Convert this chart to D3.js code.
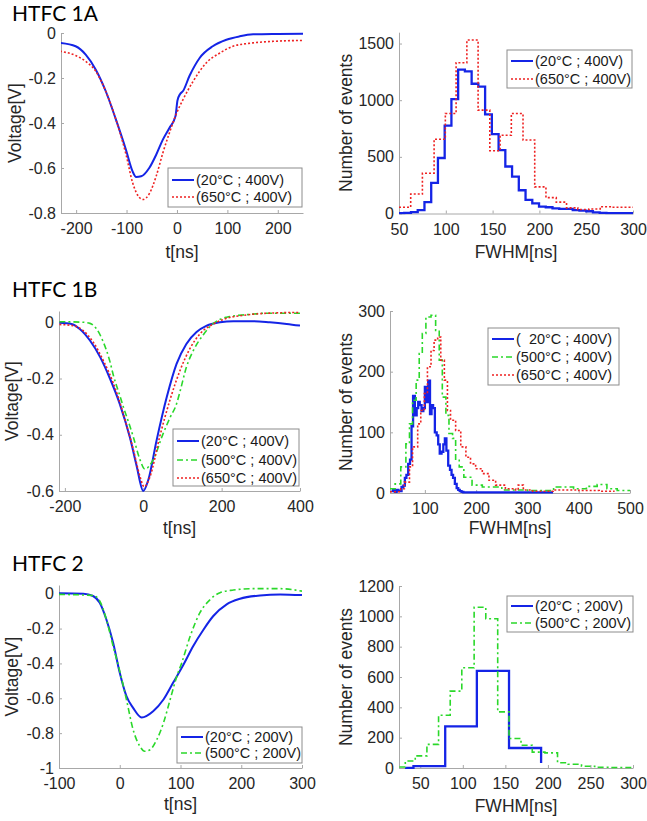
<!DOCTYPE html>
<html><head><meta charset="utf-8">
<script src="https://cdn.jsdelivr.net/npm/d3@7"></script>
<style>
body{margin:0;background:#fff;}
svg text{font-family:"Liberation Sans",Arial,sans-serif;}
</style></head><body>
<svg id="c" width="647" height="821"></svg>
<script>
// ---------- DATA ----------
// HTFC 1A waveforms
const t1A_20  = [-232,-201,-181,-161,-141,-121,-101,-88,-81,-71,-55,-41,-28,-15,-3,1,6,12,25,45,71,98,124,151,200,250];
const v1A_20  = [-0.044,-0.059,-0.096,-0.163,-0.26,-0.385,-0.52,-0.615,-0.64,-0.637,-0.60,-0.54,-0.474,-0.422,-0.37,-0.30,-0.272,-0.258,-0.19,-0.111,-0.059,-0.03,-0.015,-0.006,-0.004,-0.003];
const t1A_650 = [-232,-201,-181,-161,-141,-121,-101,-88,-75,-68,-55,-41,-28,-15,-2,12,32,58,85,111,151,191,250];
const v1A_650 = [-0.081,-0.10,-0.126,-0.17,-0.26,-0.385,-0.54,-0.665,-0.73,-0.74,-0.715,-0.635,-0.533,-0.444,-0.363,-0.296,-0.215,-0.133,-0.089,-0.059,-0.044,-0.037,-0.033];
// HTFC 1A FWHM histograms (stairs: edge, count)
const h1A_20_x  = [50,55.6,62.8,70,77.2,84.4,91.6,98.8,106,113.2,120.4,127.6,134.8,142,149.2,156.4,163.6,170.8,178,185.2,192.4,199.6,206.8,214,221.2,228.4,235.6,242.8,250,257.2,264.4,271.6,278.8,286,293.2,300];
const h1A_20_n  = [3,6,12,30,100,270,490,775,1010,1270,1255,1145,1120,875,700,560,415,325,205,120,90,60,55,45,40,40,30,25,20,10,5,3,3,3,3,3];
const h1A_650_x = [50,62.5,75,87.5,99.5,111,122.5,134.5,147,158,170,182.5,195,207,218,229,241,253,265,278,290,300];
const h1A_650_n = [55,172,355,655,882,1331,1531,912,554,690,882,649,235,140,100,50,35,40,60,55,55,55];

// HTFC 1B waveforms
const t1B_20  = [-214,-183,-162,-136,-110,-85,-60,-34,-17,0,13,34,60,85,110,136,162,196,230,281,323,366,400];
const v1B_20  = [-0.002,-0.006,-0.024,-0.065,-0.124,-0.20,-0.29,-0.41,-0.51,-0.60,-0.56,-0.42,-0.266,-0.148,-0.077,-0.035,-0.012,0,0.004,0.004,0,-0.006,-0.012];
const t1B_500 = [-214,-153,-136,-119,-102,-85,-76,-60,-51,-34,-25,-8,4,25,51,68,85,95,110,128,153,178,195,213,264,315,400];
const v1B_500 = [0.002,0,-0.004,-0.024,-0.07,-0.14,-0.19,-0.26,-0.30,-0.37,-0.41,-0.49,-0.522,-0.49,-0.395,-0.34,-0.29,-0.24,-0.16,-0.10,-0.045,-0.005,0.01,0.018,0.027,0.032,0.032];
const t1B_650 = [-214,-179,-153,-128,-102,-76,-51,-25,-8,2,17,42,68,94,119,145,179,213,264,315,400];
const v1B_650 = [-0.008,-0.012,-0.03,-0.07,-0.136,-0.218,-0.325,-0.455,-0.55,-0.585,-0.55,-0.407,-0.277,-0.171,-0.094,-0.041,-0.006,0.014,0.026,0.032,0.035];
// HTFC 1B FWHM histograms
const h1B_20_x  = [35,38,41.5,45,48,51,54.5,58,61,64,67.5,71,74,77,80.5,84,87,90,93.5,97,100,103,106.5,110,113,116,119.5,123,126,129,132.5,136,139,142,145.5,149,152,155,158.5,162,165,168,171.5,175,178,350];
const h1B_20_n  = [3,5,2,5,4,3,10,12,25,30,48,55,110,160,128,140,150,145,135,140,175,150,185,130,145,140,100,95,80,65,68,80,90,70,45,38,30,25,15,8,5,3,2,1,1,1];
const h1B_500_x = [32,42,53,63,70,76,83,89,95,102,112,121,128,134,141,147,154,160,167,176,192,212,250,300,351,390,415,436,455,475,500];
const h1B_500_n = [7,15,43,81,114,153,186,230,263,290,293,268,219,158,128,98,90,54,43,26,13,10,5,4,10,7,11,14,7,4,4];
const h1B_650_x = [32,53,60,70,76,86,92,99,105,112,118,125,131,138,144,150,160,170,180,189,199,212,225,238,257,277,282,292,310,350,400,440,470];
const h1B_650_n = [2,7,18,43,76,114,136,164,208,235,252,257,219,186,136,120,103,76,59,48,40,32,21,13,7,5,13,5,3,5,4,3,3];

// HTFC 2 waveforms
const t2_20  = [-100,-60,-44,-33,-22,-11,0,11,22,36,55,72,88,105,121,138,154,176,198,231,264,300];
const v2_20  = [0.002,0,-0.013,-0.052,-0.148,-0.28,-0.454,-0.588,-0.655,-0.71,-0.674,-0.607,-0.51,-0.406,-0.30,-0.205,-0.128,-0.061,-0.029,-0.01,-0.004,-0.008];
const t2_500 = [-100,-44,-33,-22,-11,0,11,22,33,41,50,61,72,83,94,102,116,132,149,165,187,220,264,300];
const v2_500 = [-0.004,-0.01,-0.042,-0.148,-0.30,-0.444,-0.607,-0.78,-0.875,-0.904,-0.895,-0.837,-0.741,-0.607,-0.473,-0.397,-0.243,-0.109,-0.033,0.006,0.021,0.029,0.029,0.015];
// HTFC 2 FWHM histograms
const h2_20_x  = [32,42,79.3,116.5,154.3,192];
const h2_20_n  = [0,12,275,641,132,33];
const h2_500_x = [25.4,32.4,44.1,57.8,71.5,85.2,98.8,113.3,127,141,154.3,168.4,181.6,196.5,211.3,223.8,239.5,255,272.7,300];
const h2_500_n = [7,46,80,156,348,507,661,1060,984,370,195,150,105,100,35,25,12,5,3,3];

// Tick values
const ticks1A_x = [-200,-100,0,100,200], ticks1A_y = [0,-0.2,-0.4,-0.6,-0.8];
const ticksH1A_x = [50,100,150,200,250,300], ticksH1A_y = [0,500,1000,1500];
const ticks1B_x = [-200,0,200,400], ticks1B_y = [0,-0.2,-0.4,-0.6];
const ticksH1B_x = [100,200,300,400,500], ticksH1B_y = [0,100,200,300];
const ticks2_x = [-100,0,100,200,300], ticks2_y = [0,-0.2,-0.4,-0.6,-0.8,-1];
const ticksH2_x = [50,100,150,200,250,300], ticksH2_y = [0,200,400,600,800,1000,1200];

const titles = ["HTFC 1A","HTFC 1B","HTFC 2"];

// ---------- DRAW ----------
const svg = d3.select("#c");
const STY = {
  blue:  {stroke:"#1424e6", width:2,   dash:null},
  red:   {stroke:"#ee2222", width:1.6, dash:"2,2"},
  green: {stroke:"#2ad82a", width:1.6, dash:"6,3,2,3"}
};
let clipId = 0;

function panel(c){
  const x = d3.scaleLinear().domain(c.xd).range(c.xr);
  const y = d3.scaleLinear().domain(c.yd).range(c.yr);
  const g = svg.append("g");
  const id = "clip" + (clipId++);
  svg.append("clipPath").attr("id", id).append("rect")
     .attr("x", c.xr[0]).attr("y", c.yr[1]-2)
     .attr("width", c.xr[1]-c.xr[0]).attr("height", c.yr[0]-c.yr[1]+3);

  const ax = g.append("g").attr("transform", `translate(0,${c.yr[0]})`)
    .call(d3.axisBottom(x).tickValues(c.xt).tickSizeInner(-3).tickSizeOuter(0)
          .tickPadding(10).tickFormat(d => String(d)));
  const ay = g.append("g").attr("transform", `translate(${c.xr[0]},0)`)
    .call(d3.axisLeft(y).tickValues(c.yt).tickSizeInner(-3).tickSizeOuter(0)
          .tickPadding(5).tickFormat(d => String(d)));
  [ax, ay].forEach(a => {
    a.select(".domain").attr("stroke", "#a8a8a8").attr("stroke-width", 1);
    a.selectAll(".tick line").attr("stroke", "#a8a8a8");
    a.selectAll(".tick text").attr("fill", "#262626").style("font-size", "16px")
      .style("font-family", '"Liberation Sans",Arial,sans-serif');
  });

  const plot = g.append("g").attr("clip-path", `url(#${id})`);
  c.series.forEach(s => {
    const st = STY[s.style];
    const pts = s.x.map((v, i) => [v, s.y[i]]);
    const line = d3.line().x(d => x(d[0])).y(d => y(d[1]))
      .curve(s.step ? d3.curveStepAfter : d3.curveMonotoneX);
    plot.append("path").attr("d", line(pts)).attr("fill", "none")
      .attr("stroke", st.stroke).attr("stroke-width", s.step && s.style==="blue" ? 2.3 : st.width)
      .attr("stroke-dasharray", st.dash).attr("stroke-linejoin", "miter");
  });

  g.append("text").attr("x", (c.xr[0]+c.xr[1])/2).attr("y", c.xlY).attr("dy", "0.35em")
    .attr("text-anchor", "middle").attr("fill", "#262626").style("font-size", "17.5px").text(c.xl);
  g.append("text").attr("transform", `translate(${c.ylX},${(c.yr[0]+c.yr[1])/2}) rotate(-90)`)
    .attr("dy", "0.35em").attr("text-anchor", "middle").attr("fill", "#262626")
    .style("font-size", "17.5px").text(c.yl);

  const L = c.leg;
  const lg = g.append("g");
  lg.append("rect").attr("x", L.x).attr("y", L.y).attr("width", L.w).attr("height", L.h)
    .attr("fill", "#fff").attr("stroke", "#8c8c8c").attr("stroke-width", 1);
  c.series.forEach((s, i) => {
    const st = STY[s.style];
    const ry = L.rows[i];
    lg.append("line").attr("x1", L.x+4).attr("x2", L.x+26).attr("y1", ry).attr("y2", ry)
      .attr("stroke", st.stroke).attr("stroke-width", st.width).attr("stroke-dasharray", st.dash);
    lg.append("text").attr("x", L.x+28).attr("y", ry).attr("dy", "0.36em")
      .attr("fill", "#1a1a1a").style("font-size", "14.5px").style("white-space", "pre").text(s.label);
  });
}

[[21, titles[0]], [297, titles[1]], [571, titles[2]]].forEach(([yy, t]) => {
  svg.append("text").attr("x", 12).attr("y", yy).attr("fill", "#000")
    .style("font-family", "Lato, 'Open Sans', sans-serif").style("font-size", "21px").text(t);
});

panel({xd:[-230,250], yd:[-0.8,0], xr:[61,303], yr:[213,33], xt:ticks1A_x, yt:ticks1A_y,
  xl:"t[ns]", yl:"Voltage[V]", xlY:252, ylX:15,
  series:[{x:t1A_20, y:v1A_20, style:"blue", label:"(20°C ; 400V)"},
          {x:t1A_650, y:v1A_650, style:"red", label:"(650°C ; 400V)"}],
  leg:{x:168, y:168, w:134, h:39, rows:[180, 197]}});

panel({xd:[50,300], yd:[0,1600], xr:[399,633], yr:[213.5,32.2], xt:ticksH1A_x, yt:ticksH1A_y,
  xl:"FWHM[ns]", yl:"Number of events", xlY:252, ylX:346,
  series:[{x:h1A_20_x, y:h1A_20_n, style:"blue", step:true, label:"(20°C ; 400V)"},
          {x:h1A_650_x, y:h1A_650_n, style:"red", step:true, label:"(650°C ; 400V)"}],
  leg:{x:507, y:50, w:125, h:38, rows:[61, 79]}});

panel({xd:[-215,400], yd:[-0.6,0.04], xr:[59,300], yr:[491,311], xt:ticks1B_x, yt:ticks1B_y,
  xl:"t[ns]", yl:"Voltage[V]", xlY:528, ylX:12,
  series:[{x:t1B_20, y:v1B_20, style:"blue", label:"(20°C ; 400V)"},
          {x:t1B_500, y:v1B_500, style:"green", label:"(500°C ; 400V)"},
          {x:t1B_650, y:v1B_650, style:"red", label:"(650°C ; 400V)"}],
  leg:{x:173, y:429, w:126, h:57, rows:[441, 460, 478]}});

panel({xd:[32,500], yd:[0,300], xr:[390,630], yr:[493,311], xt:ticksH1B_x, yt:ticksH1B_y,
  xl:"FWHM[ns]", yl:"Number of events", xlY:528, ylX:346,
  series:[{x:h1B_20_x, y:h1B_20_n, style:"blue", step:true, label:"(  20°C ; 400V)"},
          {x:h1B_500_x, y:h1B_500_n, style:"green", step:true, label:"(500°C ; 400V)"},
          {x:h1B_650_x, y:h1B_650_n, style:"red", step:true, label:"(650°C ; 400V)"}],
  leg:{x:488, y:328, w:131, h:57, rows:[339, 357, 375]}});

panel({xd:[-100,300], yd:[-1,0.05], xr:[59,302], yr:[768,585], xt:ticks2_x, yt:ticks2_y,
  xl:"t[ns]", yl:"Voltage[V]", xlY:804, ylX:12,
  series:[{x:t2_20, y:v2_20, style:"blue", label:"(20°C ; 200V)"},
          {x:t2_500, y:v2_500, style:"green", label:"(500°C ; 200V)"}],
  leg:{x:177, y:727, w:125, h:36, rows:[737, 753]}});

panel({xd:[25,300], yd:[0,1200], xr:[399,633], yr:[768,586], xt:ticksH2_x, yt:ticksH2_y,
  xl:"FWHM[ns]", yl:"Number of events", xlY:806, ylX:346,
  series:[{x:h2_20_x, y:h2_20_n, style:"blue", step:true, label:"(20°C ; 200V)"},
          {x:h2_500_x, y:h2_500_n, style:"green", step:true, label:"(500°C ; 200V)"}],
  leg:{x:507, y:596, w:126, h:36, rows:[606, 623]}});
</script>
</body></html>
